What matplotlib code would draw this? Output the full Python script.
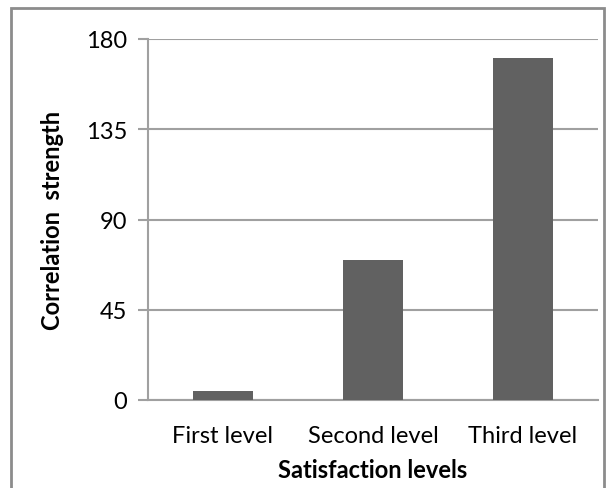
import matplotlib
matplotlib.use("Agg")
import matplotlib.pyplot as plt
from matplotlib.patches import Rectangle

categories = ["First level", "Second level", "Third level"]
values = [4.5, 70, 170.5]
yticks = [0, 45, 90, 135, 180]

W, H = 608, 489
fig = plt.figure(figsize=(W / 100, H / 100), dpi=100)
plt.rcParams['font.family'] = ['Lato', 'DejaVu Sans']

ax = fig.add_axes([148 / W, (H - 401) / H, (598 - 148) / W, (401 - 40) / H])
x = range(len(categories))
ax.bar(x, values, width=0.4, color="#616161", zorder=3)
ax.set_xlim(-0.5, 2.5)
ax.set_ylim(0, 180)
ax.set_yticks(yticks)
ax.set_xticks(list(x))
ax.set_xticklabels(categories, fontsize=17)
ax.tick_params(axis='y', labelsize=17, length=7, width=1.5, color="#a0a0a0", pad=8)
ax.tick_params(axis='x', length=0, pad=18)
ax.grid(axis='y', color="#a0a0a0", linewidth=1.5, zorder=0)
for s in ["top", "right"]:
    ax.spines[s].set_visible(False)
for s in ["left", "bottom"]:
    ax.spines[s].set_color("#a0a0a0")
    ax.spines[s].set_linewidth(1.5)
ax.set_ylabel("Correlation  strength", fontsize=17, fontweight='bold', labelpad=16)
ax.set_xlabel("Satisfaction levels", fontsize=17, fontweight='bold', labelpad=9)

fig.patches.append(Rectangle((11 / W, -0.05), (604 - 11) / W, (H - 9) / H + 0.05,
                             transform=fig.transFigure, fill=False,
                             edgecolor="#8c8c8c", linewidth=2))

fig.savefig("out.png", dpi=100)
